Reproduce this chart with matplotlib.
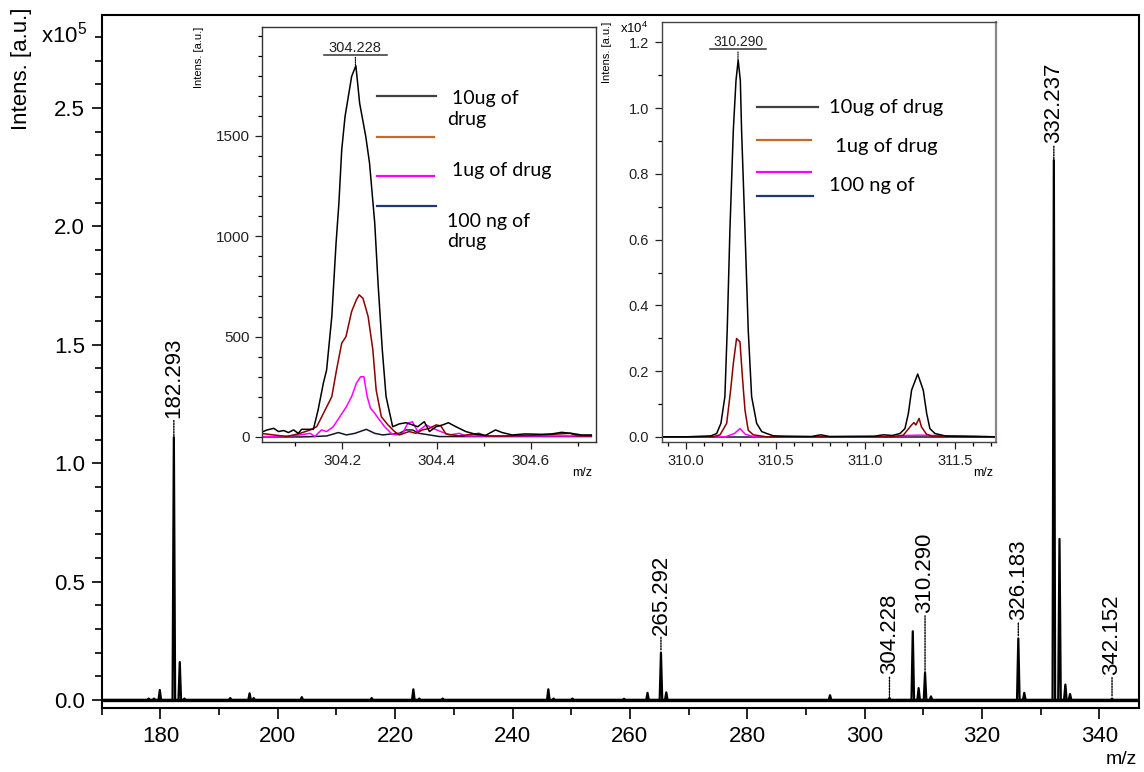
import matplotlib
matplotlib.use("Agg")
import matplotlib.pyplot as plt
from matplotlib.ticker import MultipleLocator, FixedLocator, FormatStrFormatter
from matplotlib.transforms import offset_copy

# ---- main spectrum: centroid peaks (m/z, intensity in 1e5 a.u.)
peak_mz = [178.0, 178.9, 179.9, 182.293, 183.3, 184.1, 191.9, 195.2, 195.9, 204.1,
           216.0, 223.1, 224.1, 228.1, 246.1, 247.0, 250.2, 259.0, 263.0, 265.292,
           266.2, 294.1, 304.228, 308.2, 309.2, 310.290, 311.3, 326.183, 327.2,
           332.237, 333.2, 334.2, 335.0, 342.152]
peak_int = [0.006, 0.006, 0.042, 1.11, 0.16, 0.006, 0.008, 0.028, 0.008, 0.012,
            0.008, 0.045, 0.006, 0.006, 0.045, 0.006, 0.006, 0.005, 0.03, 0.20,
            0.032, 0.02, 0.008, 0.29, 0.05, 0.115, 0.015, 0.26, 0.03,
            2.28, 0.68, 0.065, 0.025, 0.006]

label_mz = [182.293, 265.292, 304.228, 310.290, 326.183, 332.237, 342.152]
label_gap = [14, 13, 17, 43, 13, 12, 17]  # points between peak top and label

# ---- inset 1: zoom around 304.228 (intensity a.u.)
i1_10ug_mz = [304.027, 304.041, 304.055, 304.065, 304.076, 304.086, 304.097, 304.107, 304.114,
              304.139, 304.149, 304.160, 304.167, 304.178, 304.187, 304.193, 304.199, 304.206,
              304.213, 304.220, 304.229, 304.237, 304.250, 304.258, 304.269, 304.276, 304.285,
              304.293, 304.307, 304.321, 304.335, 304.349, 304.360, 304.374, 304.385, 304.399,
              304.413, 304.425, 304.441, 304.462, 304.483, 304.504, 304.525, 304.539, 304.560,
              304.588, 304.623, 304.644, 304.665, 304.686, 304.707, 304.728]
i1_10ug_int = [22, 35, 43, 27, 32, 22, 35, 18, 38,
               38, 135, 267, 334, 600, 965, 1164, 1430, 1596,
               1696, 1796, 1850, 1663, 1497, 1364, 1065, 766, 434,
               201, 51, 65, 71, 60, 51, 76, 27, 51,
               60, 71, 51, 27, 13, 8, 35, 22, 10,
               15, 13, 15, 23, 18, 10, 10]

i1_1ug_mz = [304.027, 304.055, 304.083, 304.111, 304.132, 304.146, 304.164, 304.178, 304.188,
             304.199, 304.208, 304.220, 304.230, 304.236, 304.244, 304.255, 304.265, 304.272,
             304.283, 304.297, 304.311, 304.321, 304.342, 304.356, 304.370, 304.385, 304.399,
             304.409, 304.420, 304.448, 304.490, 304.504, 304.553, 304.623, 304.683, 304.700,
             304.728]
i1_1ug_int = [18, 10, 2, 18, 35, 51, 135, 201, 334,
              467, 500, 625, 683, 708, 691, 600, 434, 234,
              101, 60, 27, 10, 27, 18, 35, 43, 60,
              55, 15, 5, 18, 5, 5, 10, 18, 5,
              5]

i1_100ng_mz = [304.027, 304.069, 304.111, 304.132, 304.142, 304.156, 304.167, 304.181, 304.195,
               304.209, 304.220, 304.230, 304.239, 304.246, 304.253, 304.260, 304.269, 304.279,
               304.290, 304.304, 304.314, 304.328, 304.339, 304.349, 304.360, 304.378, 304.392,
               304.409, 304.427, 304.448, 304.462, 304.518, 304.588, 304.658, 304.728]
i1_100ng_int = [2, 2, 10, 18, 2, 35, 27, 51, 101,
                151, 201, 267, 300, 300, 201, 143, 118, 85,
                51, 18, 10, 18, 68, 76, 27, 60, 43,
                27, 10, 18, 5, 5, 5, 5, 5]

i1_blank_mz = [304.027, 304.111, 304.139, 304.167, 304.192, 304.209, 304.227, 304.251, 304.269,
               304.286, 304.304, 304.321, 304.335, 304.349, 304.363, 304.385, 304.406, 304.448,
               304.728]
i1_blank_int = [0, 0, 2, 5, 22, 10, 18, 38, 18,
                10, 15, 18, 35, 35, 18, 10, 2, 2,
                2]
i1_yticks = [0, 500, 1000, 1500]

# ---- inset 2: zoom around 310.290 (intensity in 1e4 a.u.)
i2_10ug_mz = [309.865, 310.0, 310.10, 310.14, 310.171, 310.195, 310.217, 310.230, 310.245,
              310.264, 310.279, 310.291, 310.303, 310.310, 310.329, 310.347, 310.366, 310.394,
              310.422, 310.450, 310.487, 310.55, 310.70, 310.75, 310.80, 311.05, 311.10,
              311.15, 311.192, 311.220, 311.239, 311.257, 311.291, 311.322, 311.341, 311.359,
              311.387, 311.45, 311.727]
i2_10ug_int = [0.0, 0.0, 0.002, 0.003, 0.010, 0.041, 0.122, 0.325, 0.629,
               0.933, 1.085, 1.146, 1.085, 0.933, 0.629, 0.325, 0.122, 0.041,
               0.016, 0.010, 0.003, 0.002, 0.001, 0.006, 0.001, 0.002, 0.006,
               0.004, 0.010, 0.025, 0.071, 0.142, 0.191, 0.142, 0.071, 0.025,
               0.010, 0.002, 0.0]

i2_1ug_mz = [309.865, 310.15, 310.19, 310.227, 310.249, 310.264, 310.282, 310.301, 310.316,
             310.329, 310.347, 310.375, 310.45, 311.15, 311.211, 311.257, 311.270, 311.281,
             311.299, 311.312, 311.34, 311.37, 311.727]
i2_1ug_int = [0.0, 0.0, 0.006, 0.041, 0.142, 0.223, 0.299, 0.289, 0.172,
              0.081, 0.020, 0.006, 0.0, 0.0, 0.005, 0.036, 0.043, 0.036,
              0.056, 0.030, 0.008, 0.002, 0.0]

i2_100ng_mz = [309.865, 310.22, 310.27, 310.301, 310.33, 310.38, 311.15, 311.22, 311.30, 311.38, 311.727]
i2_100ng_int = [0.0, 0.0, 0.010, 0.025, 0.008, 0.0, 0.0, 0.004, 0.005, 0.004, 0.0]

i2_blank_mz = [309.865, 311.727]
i2_blank_int = [0.0, 0.0]

legend1_text = [" 10ug of\ndrug", "", " 1ug of drug", "100 ng of\ndrug"]
legend2_text = ["10ug of drug", " 1ug of drug", "100 ng of", ""]

C_BLACK = "black"
C_RED = "#8b0000"
C_MAG = "#ff00ff"
C_NAVY = "#15152a"
LEG_COLORS = ["#404040", "#c8692a", "#ff00ff", "#1f3a6e"]

plt.rcParams["font.family"] = "Liberation Sans"
plt.rcParams["mathtext.default"] = "regular"

fig = plt.figure(figsize=(11.44, 7.72), dpi=100)

# ================= main spectrum =================
ax = fig.add_axes([0.0889, 0.0829, 0.907, 0.8977])
HW = 0.22  # half width of drawn peaks
xs, ys = [170], [0]
for c, h in zip(peak_mz, peak_int):
    xs += [c - HW, c, c + HW]
    ys += [0, h, 0]
xs.append(347)
ys.append(0)
ax.axhline(0, color="black", lw=2.4, zorder=1)
ax.plot(xs, ys, color="black", lw=1.6, zorder=2)

for mz, gap in zip(label_mz, label_gap):
    h = peak_int[peak_mz.index(mz)]
    ax.annotate(f"{mz:.3f}", xy=(mz, h), xytext=(0, gap), textcoords="offset points",
                rotation=90, ha="center", va="bottom", fontsize=16,
                arrowprops=dict(arrowstyle="-", linestyle=(0, (1, 1)), lw=1.0,
                                color="black", shrinkA=0, shrinkB=1))

ax.set_xlim(170, 346.8)
ax.set_ylim(-0.034, 2.893)
ax.xaxis.set_major_locator(MultipleLocator(20))
ax.xaxis.set_minor_locator(MultipleLocator(10))
ax.yaxis.set_major_locator(MultipleLocator(0.5))
ax.yaxis.set_minor_locator(MultipleLocator(0.1))
ax.yaxis.set_major_formatter(FormatStrFormatter("%.1f"))
ax.tick_params(which="major", direction="out", length=8, width=1.2, labelsize=16, pad=5)
ax.tick_params(which="minor", direction="out", length=5, width=1.2)
ax.tick_params(axis="y", which="major", length=7)
for s in ax.spines.values():
    s.set_linewidth(1.5)

fig.text(0.019, 0.99, "Intens. [a.u.]", rotation=90, ha="center", va="top", fontsize=16)
fig.text(0.036, 0.955, "x10$^{5}$", ha="left", va="center", fontsize=16)
fig.text(0.994, 0.016, "m/z", ha="right", va="center", fontsize=14)


def add_legend(a, colors, texts, line_y, line_x, text_pos, fsize):
    for col, y, (x0, x1) in zip(colors, line_y, line_x):
        a.plot([x0, x1], [y, y], transform=a.transAxes, color=col, lw=1.6, clip_on=False)
    for t, (tx, ty) in zip(texts, text_pos):
        if t:
            a.text(tx, ty, t, transform=a.transAxes, ha="left", va="center",
                   fontsize=fsize, family="Lato", linespacing=1.25)


def peak_tag(a, mz, h, label, half, fsize):
    trans = offset_copy(a.transData, fig=fig, x=0, y=8, units="points")
    a.plot([mz - half, mz + half], [h, h], transform=trans, color="#333333", lw=1.1, clip_on=False)
    a.annotate(label, xy=(mz, h), xytext=(0, 8), textcoords="offset points",
               ha="center", va="bottom", fontsize=fsize - 1, color="#222222",
               arrowprops=dict(arrowstyle="-", linestyle=(0, (1, 1)), lw=0.8,
                               color="black", shrinkA=0, shrinkB=0))


# ================= inset 1 =================
a1 = fig.add_axes([0.229, 0.4275, 0.292, 0.5376])
a1.plot(i1_blank_mz, i1_blank_int, color=C_NAVY, lw=1.1)
a1.plot(i1_100ng_mz, i1_100ng_int, color=C_MAG, lw=1.1)
a1.plot(i1_1ug_mz, i1_1ug_int, color=C_RED, lw=1.1)
a1.plot(i1_10ug_mz, i1_10ug_int, color=C_BLACK, lw=1.1)
a1.set_xlim(304.03, 304.738)
a1.set_ylim(-25, 2043)
a1.xaxis.set_major_locator(MultipleLocator(0.2))
a1.xaxis.set_minor_locator(MultipleLocator(0.1))
a1.yaxis.set_major_locator(FixedLocator(i1_yticks))
a1.yaxis.set_minor_locator(MultipleLocator(100))
a1.xaxis.set_major_formatter(FormatStrFormatter("%.1f"))
a1.tick_params(which="major", direction="out", length=5, width=0.9, labelsize=11, pad=4, colors="#222222")
a1.tick_params(which="minor", direction="out", length=3, width=0.9)
for s in a1.spines.values():
    s.set_linewidth(1.0)
    s.set_color("#333333")
a1.text(-0.19, 1.0, "Intens. [a.u.]", transform=a1.transAxes, rotation=90,
        ha="center", va="top", fontsize=8)
a1.text(0.957, -0.075, "m/z", transform=a1.transAxes, ha="center", va="center", fontsize=9)
peak_tag(a1, 304.228, max(i1_10ug_int), "304.228", 0.066, 11.5)
add_legend(a1, LEG_COLORS, legend1_text,
           [0.834, 0.735, 0.641, 0.569],
           [(0.344, 0.521), (0.344, 0.516), (0.344, 0.516), (0.344, 0.521)],
           [(0.553, 0.802), (0.553, 0.735), (0.553, 0.653), (0.553, 0.507)], 14)

# ================= inset 2 =================
a2 = fig.add_axes([0.5784, 0.4278, 0.2922, 0.544])
a2.plot(i2_blank_mz, i2_blank_int, color=C_NAVY, lw=1.1)
a2.plot(i2_100ng_mz, i2_100ng_int, color=C_MAG, lw=1.1)
a2.plot(i2_1ug_mz, i2_1ug_int, color=C_RED, lw=1.1)
a2.plot(i2_10ug_mz, i2_10ug_int, color=C_BLACK, lw=1.1)
a2.set_xlim(309.865, 311.727)
a2.set_ylim(-0.015, 1.263)
a2.xaxis.set_major_locator(MultipleLocator(0.5))
a2.xaxis.set_minor_locator(MultipleLocator(0.1))
a2.yaxis.set_major_locator(MultipleLocator(0.2))
a2.yaxis.set_minor_locator(MultipleLocator(0.1))
a2.xaxis.set_major_formatter(FormatStrFormatter("%.1f"))
a2.yaxis.set_major_formatter(FormatStrFormatter("%.1f"))
a2.tick_params(which="major", direction="out", length=5, width=0.9, labelsize=10.5, pad=4, colors="#222222")
a2.tick_params(which="minor", direction="out", length=3, width=0.9)
for s in a2.spines.values():
    s.set_linewidth(1.0)
    s.set_color("#444444")
a2.spines["right"].set_linewidth(1.6)
a2.spines["right"].set_color("#888888")
a2.text(-0.165, 1.0, "Intens. [a.u.]", transform=a2.transAxes, rotation=90,
        ha="center", va="top", fontsize=8)
a2.text(-0.125, 0.985, "x10$^{4}$", transform=a2.transAxes, ha="left", va="center", fontsize=9.5)
a2.text(0.961, -0.075, "m/z", transform=a2.transAxes, ha="center", va="center", fontsize=9)
peak_tag(a2, 310.290, max(i2_10ug_int), "310.290", 0.155, 11)
add_legend(a2, LEG_COLORS, legend2_text,
           [0.797, 0.718, 0.642, 0.585],
           [(0.285, 0.468), (0.285, 0.447), (0.285, 0.447), (0.285, 0.452)],
           [(0.501, 0.795), (0.503, 0.702), (0.501, 0.611), (0.5, 0.5)], 14.5)

fig.savefig("out.png", dpi=100)
